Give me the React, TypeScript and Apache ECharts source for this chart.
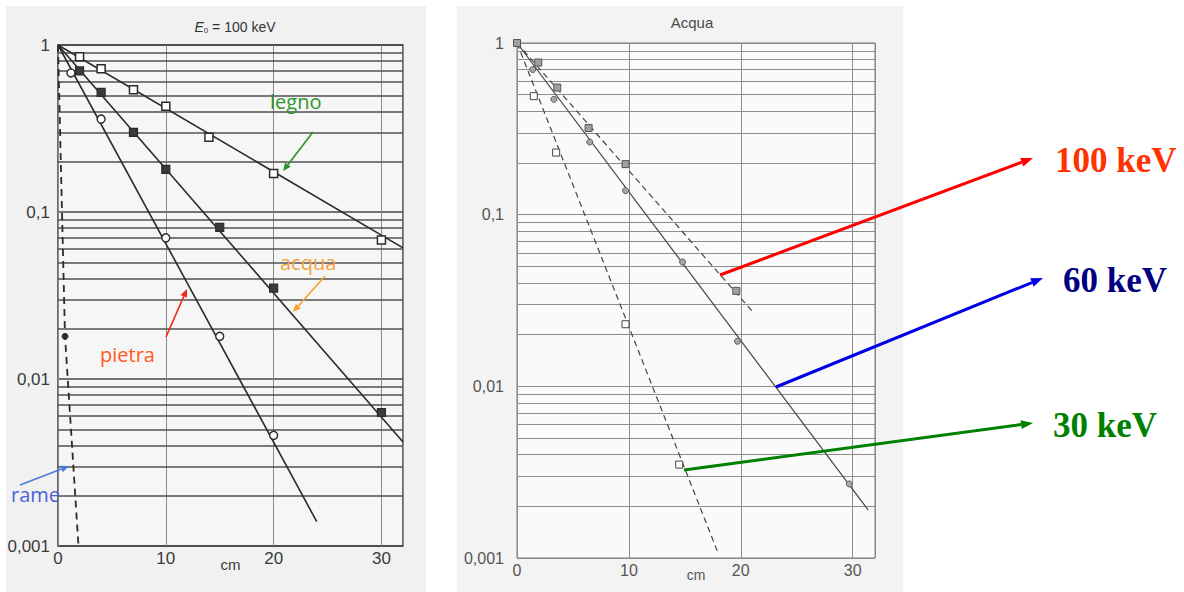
import React, { useEffect, useRef } from "react";
import * as echarts from "echarts";

// Log-axis tick labels (Italian decimal comma), from 0.001 up to 1
const yTickLabels = ["0,001", "0,01", "0,1", "1"];
// Thickness scale (cm)
const xTickValues = [0, 10, 20, 30];
const xMax = 32;

// Intermediate log grid lines (2..9 in each decade)
const logGridLines = [
  0.002, 0.003, 0.004, 0.005, 0.006, 0.007, 0.008, 0.009,
  0.02, 0.03, 0.04, 0.05, 0.06, 0.07, 0.08, 0.09,
  0.2, 0.3, 0.4, 0.5, 0.6, 0.7, 0.8, 0.9,
];

// ---- Left panel: E0 = 100 keV, different materials ----
const legnoPoints = [[2, 0.85], [4, 0.72], [7, 0.54], [10, 0.43], [14, 0.28], [20, 0.17], [30, 0.068]];
const legnoFit = [[0, 1], [32, 0.061]];

const acquaPoints = [[2, 0.7], [4, 0.52], [7, 0.3], [10, 0.18], [15, 0.081], [20, 0.035], [30, 0.0063]];
const acquaFit = [[0, 1], [32, 0.0042]];

const pietraPoints = [[1.2, 0.68], [4, 0.36], [10, 0.07], [15, 0.018], [20, 0.0046]];
const pietraFit = [[0, 1], [24, 0.0014]];

const ramePoints = [[0.65, 0.018]];
const rameFit = [[0, 1], [0.65, 0.018], [1.9, 0.001]];

// ---- Right panel: water, different photon energies ----
const keV100Points = [[0, 1], [1.9, 0.77], [3.6, 0.55], [6.4, 0.32], [9.7, 0.197], [19.6, 0.036]];
const keV100Fit = [[0, 1], [21.1, 0.027]];

const keV60Points = [[1.4, 0.7], [3.3, 0.47], [6.5, 0.265], [9.7, 0.138], [14.8, 0.053], [19.7, 0.0183], [29.7, 0.0027]];
const keV60Fit = [[0, 1], [31.4, 0.0019]];

const keV30Points = [[1.5, 0.49], [3.5, 0.23], [9.7, 0.023], [14.5, 0.0035]];
const keV30Fit = [[0, 1], [17.9, 0.0011]];

const tickFont = "'Liberation Sans', Arial, sans-serif";
const noteFont = "'Open Sans', 'Noto Sans', sans-serif";
const serifFont = "'Liberation Serif', 'Times New Roman', serif";

function yLabel(v: number) {
  return yTickLabels[Math.round(Math.log10(v)) + 3] ?? "";
}

function arrow(
  x1: number, y1: number, x2: number, y2: number,
  color: string, width: number, head: number, halfW: number
) {
  const a = Math.atan2(y2 - y1, x2 - x1);
  const bx = x2 - head * Math.cos(a);
  const by = y2 - head * Math.sin(a);
  const px = -Math.sin(a) * halfW;
  const py = Math.cos(a) * halfW;
  return [
    {
      type: "line",
      z: 50,
      shape: { x1, y1, x2: bx, y2: by },
      style: { stroke: color, lineWidth: width },
    },
    {
      type: "polygon",
      z: 50,
      shape: { points: [[x2, y2], [bx + px, by + py], [bx - px, by - py]] },
      style: { fill: color },
    },
  ];
}

function note(text: string, x: number, y: number, color: string, size: number, family: string, weight = "normal") {
  return {
    type: "text",
    z: 50,
    x,
    y,
    style: {
      text,
      fill: color,
      fontSize: size,
      fontFamily: family,
      fontWeight: weight,
      align: "left",
      verticalAlign: "middle",
    },
  };
}

function makeXAxis(gridIndex: number, labelSize: number, labelColor: string, lineColor: string, nameGap: number) {
  return {
    type: "value",
    gridIndex,
    min: 0,
    max: xMax,
    interval: 10,
    name: "cm",
    nameLocation: "middle",
    nameGap,
    nameMoveOverlap: false,
    nameTextStyle: { color: labelColor, fontSize: labelSize - 2, fontFamily: tickFont },
    axisLine: { show: false },
    axisTick: { show: false },
    axisLabel: {
      color: labelColor,
      fontSize: labelSize,
      fontFamily: tickFont,
      margin: 4,
      formatter: (v: number) => (xTickValues.includes(v) ? String(v) : ""),
    },
    splitLine: { show: true, lineStyle: { color: lineColor, width: 1 } },
  };
}

function makeYAxis(gridIndex: number, labelSize: number, labelColor: string, lineColor: string, lineWidth: number, margin: number) {
  return {
    type: "log",
    logBase: 10,
    gridIndex,
    min: 0.001,
    max: 1,
    axisLine: { show: false },
    axisTick: { show: false },
    axisLabel: {
      color: labelColor,
      fontSize: labelSize,
      fontFamily: tickFont,
      margin,
      formatter: yLabel,
    },
    splitLine: { show: true, lineStyle: { color: lineColor, width: lineWidth } },
  };
}

// Horizontal log-grid lines drawn through the axis scale as a lines series
function gridLines(index: number, color: string, width: number) {
  return {
    type: "lines",
    coordinateSystem: "cartesian2d",
    xAxisIndex: index,
    yAxisIndex: index,
    z: 1,
    silent: true,
    polyline: false,
    symbol: ["none", "none"],
    lineStyle: { color, width, type: "solid", opacity: 1, curveness: 0 },
    data: logGridLines.map((v) => ({ coords: [[0, v], [xMax, v]] })),
  };
}

function fitLine(index: number, data: number[][], color: string, width: number, dashed: number[] | null) {
  return {
    type: "line",
    xAxisIndex: index,
    yAxisIndex: index,
    data,
    symbol: "none",
    z: 3,
    silent: true,
    lineStyle: { color, width, type: dashed ?? "solid" },
  };
}

function markers(index: number, data: number[][], symbol: string, size: number, fill: string, border: string, borderWidth: number) {
  return {
    type: "scatter",
    xAxisIndex: index,
    yAxisIndex: index,
    data,
    symbol,
    symbolSize: size,
    z: 4,
    silent: true,
    itemStyle: { color: fill, borderColor: border, borderWidth, opacity: 1 },
  };
}

export default function App() {
  const ref = useRef<HTMLDivElement>(null);

  useEffect(() => {
    if (!ref.current) return;
    const chart = echarts.init(ref.current, null, { renderer: "svg" });

    const ink = "#2b2b2b";
    const ink2 = "#454545";

    const option = {
      animation: false,
      backgroundColor: "#ffffff",
      grid: [
        {
          left: 58, top: 45, width: 345, height: 501,
          containLabel: false, outerBoundsMode: "none",
          show: true, borderColor: "#3e3e3e", borderWidth: 1.5, backgroundColor: "#f6f6f6",
        },
        {
          left: 517, top: 43, width: 358, height: 515,
          containLabel: false, outerBoundsMode: "none",
          show: true, borderColor: "#7a7a7a", borderWidth: 1, backgroundColor: "#fafafa",
        },
      ],
      xAxis: [
        makeXAxis(0, 17, "#3a3a3a", "#8a8a8a", 11),
        makeXAxis(1, 16, "#555555", "#8c8c8c", 10),
      ],
      yAxis: [
        makeYAxis(0, 17, "#3a3a3a", "#444444", 1.6, 8),
        makeYAxis(1, 16, "#555555", "#8a8a8a", 1, 13),
      ],
      series: [
        // Left panel
        gridLines(0, "#505050", 1.5),
        fitLine(0, legnoFit, ink, 1.6, null),
        fitLine(0, acquaFit, ink, 1.6, null),
        fitLine(0, pietraFit, ink, 1.6, null),
        fitLine(0, rameFit, ink, 1.8, [7, 5]),
        markers(0, legnoPoints, "rect", 8, "#ffffff", ink, 1.5),
        markers(0, acquaPoints, "rect", 8, "#3a3a3a", ink, 1.2),
        markers(0, pietraPoints, "circle", 8, "#ffffff", ink, 1.4),
        markers(0, ramePoints, "circle", 6, "#2b2b2b", ink, 1),
        // Right panel
        gridLines(1, "#8c8c8c", 1),
        fitLine(1, keV100Fit, ink2, 1.2, [6, 4]),
        fitLine(1, keV60Fit, ink2, 1.2, null),
        fitLine(1, keV30Fit, ink2, 1.2, [6, 4]),
        markers(1, keV100Points, "rect", 7, "#a0a0a0", "#555555", 1),
        markers(1, keV60Points, "circle", 6, "#a8a8a8", "#5a5a5a", 1),
        markers(1, keV30Points, "rect", 7, "#ffffff", "#444444", 1),
      ],
      graphic: [
        // paper panels behind each plot
        { type: "rect", z: -100, silent: true, shape: { x: 6, y: 6, width: 420, height: 586 }, style: { fill: "#f1f1f1" } },
        { type: "rect", z: -100, silent: true, shape: { x: 457, y: 6, width: 446, height: 586 }, style: { fill: "#f3f3f3" } },
        // titles
        {
          type: "text",
          z: 50,
          x: 235,
          y: 27,
          style: {
            text: "{e|E}{s|0}{n| = 100 keV}",
            align: "center",
            verticalAlign: "middle",
            fill: "#333333",
            rich: {
              e: { fontSize: 14, fontStyle: "italic", fontFamily: tickFont, fill: "#333333" },
              s: { fontSize: 8, fontFamily: tickFont, verticalAlign: "bottom", fill: "#333333" },
              n: { fontSize: 14, fontFamily: tickFont, fill: "#333333" },
            },
          },
        },
        {
          type: "text",
          z: 50,
          x: 692,
          y: 22,
          style: {
            text: "Acqua",
            align: "center",
            verticalAlign: "middle",
            fill: "#4a4a4a",
            fontSize: 15,
            fontFamily: tickFont,
          },
        },
        // material labels (left panel)
        note("legno", 270, 101, "#2e962e", 20, noteFont),
        ...arrow(313, 132, 283, 171, "#2b8f2b", 1.6, 8, 3.5),
        note("acqua", 280, 262, "#f5a33a", 20, noteFont),
        ...arrow(325, 276, 293, 312, "#f5a030", 1.6, 8, 3.5),
        note("pietra", 100, 354, "#ff5a22", 20, noteFont),
        ...arrow(166, 337, 187, 289, "#ee2a1a", 1.6, 8, 3.5),
        note("rame", 11, 494, "#4a62d8", 20, noteFont),
        ...arrow(20, 485, 69, 466, "#4a7ad8", 1.6, 8, 3.5),
        // energy labels (right panel)
        ...arrow(720, 275, 1033, 158, "#ff0000", 3, 12, 4.5),
        note("100 keV", 1055, 160, "#ff3300", 35, serifFont, "bold"),
        ...arrow(776, 387, 1043, 278, "#0000e6", 3, 12, 4.5),
        note("60 keV", 1063, 280, "#000080", 35, serifFont, "bold"),
        ...arrow(684, 470, 1033, 423, "#008000", 3, 12, 4.5),
        note("30 keV", 1053, 425, "#008000", 35, serifFont, "bold"),
      ],
    };

    chart.setOption(option as any);
    return () => chart.dispose();
  }, []);

  return (
    <div
      ref={ref}
      style={{ position: "absolute", left: 0, top: 0, width: 1184, height: 592 }}
    />
  );
}
